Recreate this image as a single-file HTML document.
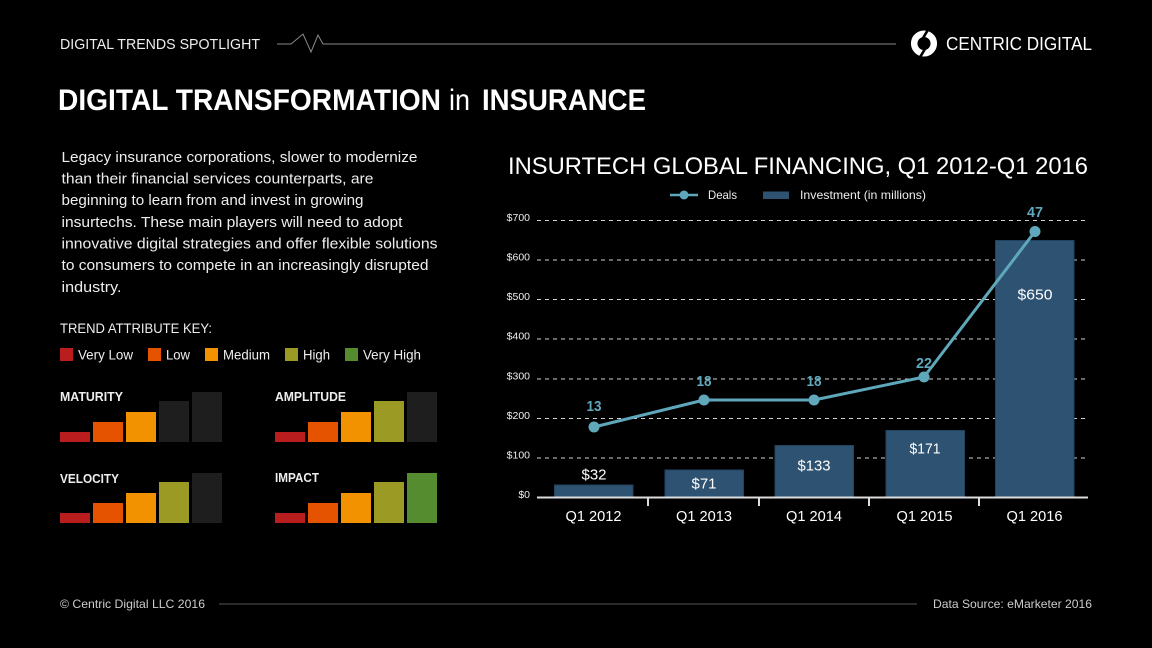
<!DOCTYPE html>
<html>
<head>
<meta charset="utf-8">
<style>
html,body{margin:0;padding:0;background:#000;}
svg{display:block;}
text{font-family:"Liberation Sans",sans-serif;}
</style>
</head>
<body>
<svg width="1152" height="648" viewBox="0 0 1152 648" xmlns="http://www.w3.org/2000/svg">
<rect width="1152" height="648" fill="#000"/>

<!-- Header -->
<text x="60" y="49" font-size="15" fill="#eee" textLength="200" lengthAdjust="spacingAndGlyphs">DIGITAL TRENDS SPOTLIGHT</text>
<polyline points="277,44 291,44 303,34 311,52 318,35 323,44 896,44" fill="none" stroke="#8a8a8a" stroke-width="1"/>
<!-- logo -->
<circle cx="924" cy="43.5" r="9.8" fill="none" stroke="#fff" stroke-width="6.5"/>
<line x1="929" y1="28" x2="922.5" y2="39" stroke="#000" stroke-width="2.6"/>
<line x1="919" y1="59" x2="925.5" y2="48" stroke="#000" stroke-width="2.6"/>
<text x="946" y="50" font-size="18" fill="#fff" textLength="146" lengthAdjust="spacingAndGlyphs">CENTRIC DIGITAL</text>

<!-- Main title -->
<text x="58" y="110" font-size="30" font-weight="bold" fill="#fff" textLength="383" lengthAdjust="spacingAndGlyphs">DIGITAL TRANSFORMATION</text>
<text x="449" y="110" font-size="30" fill="#fff" textLength="21" lengthAdjust="spacingAndGlyphs">in</text>
<text x="482" y="110" font-size="30" font-weight="bold" fill="#fff" textLength="164" lengthAdjust="spacingAndGlyphs">INSURANCE</text>

<!-- Paragraph -->
<g font-size="14.5" fill="#eee">
<text x="61.5" y="162" textLength="356" lengthAdjust="spacingAndGlyphs">Legacy insurance corporations, slower to modernize</text>
<text x="61.5" y="183.5" textLength="312" lengthAdjust="spacingAndGlyphs">than their financial services counterparts, are</text>
<text x="61.5" y="205" textLength="302" lengthAdjust="spacingAndGlyphs">beginning to learn from and invest in growing</text>
<text x="61.5" y="227" textLength="341" lengthAdjust="spacingAndGlyphs">insurtechs.  These main players will need to adopt</text>
<text x="61.5" y="248.5" textLength="376" lengthAdjust="spacingAndGlyphs">innovative digital strategies and offer flexible solutions</text>
<text x="61.5" y="270" textLength="367" lengthAdjust="spacingAndGlyphs">to consumers to compete in an increasingly disrupted</text>
<text x="61.5" y="292" textLength="60" lengthAdjust="spacingAndGlyphs">industry.</text>
</g>

<!-- Trend key -->
<text x="60" y="333" font-size="14" fill="#eee" textLength="152" lengthAdjust="spacingAndGlyphs">TREND ATTRIBUTE KEY:</text>
<rect x="60" y="348" width="13" height="13" fill="#b91d1e"/>
<text x="78" y="359.5" font-size="14" fill="#eee" textLength="55" lengthAdjust="spacingAndGlyphs">Very Low</text>
<rect x="148" y="348" width="13" height="13" fill="#e55300"/>
<text x="166" y="359.5" font-size="14" fill="#eee" textLength="24" lengthAdjust="spacingAndGlyphs">Low</text>
<rect x="205" y="348" width="13" height="13" fill="#f39200"/>
<text x="223" y="359.5" font-size="14" fill="#eee" textLength="47" lengthAdjust="spacingAndGlyphs">Medium</text>
<rect x="285" y="348" width="13" height="13" fill="#9b9a25"/>
<text x="303" y="359.5" font-size="14" fill="#eee" textLength="27" lengthAdjust="spacingAndGlyphs">High</text>
<rect x="345" y="348" width="13" height="13" fill="#548c2f"/>
<text x="363" y="359.5" font-size="14" fill="#eee" textLength="58" lengthAdjust="spacingAndGlyphs">Very High</text>

<!-- MATURITY -->
<text x="60" y="401" font-size="12.5" font-weight="bold" fill="#eee" textLength="63" lengthAdjust="spacingAndGlyphs">MATURITY</text>
<rect x="60" y="432" width="30" height="10" fill="#b91d1e"/>
<rect x="93" y="422" width="30" height="20" fill="#e55300"/>
<rect x="126" y="412" width="30" height="30" fill="#f39200"/>
<rect x="159" y="401" width="30" height="41" fill="#1e1e1e"/>
<rect x="192" y="392" width="30" height="50" fill="#1e1e1e"/>

<!-- AMPLITUDE -->
<text x="275" y="401" font-size="12.5" font-weight="bold" fill="#eee" textLength="71" lengthAdjust="spacingAndGlyphs">AMPLITUDE</text>
<rect x="275" y="432" width="30" height="10" fill="#b91d1e"/>
<rect x="308" y="422" width="30" height="20" fill="#e55300"/>
<rect x="341" y="412" width="30" height="30" fill="#f39200"/>
<rect x="374" y="401" width="30" height="41" fill="#9b9a25"/>
<rect x="407" y="392" width="30" height="50" fill="#1e1e1e"/>

<!-- VELOCITY -->
<text x="60" y="483" font-size="12.5" font-weight="bold" fill="#eee" textLength="59" lengthAdjust="spacingAndGlyphs">VELOCITY</text>
<rect x="60" y="513" width="30" height="10" fill="#b91d1e"/>
<rect x="93" y="503" width="30" height="20" fill="#e55300"/>
<rect x="126" y="493" width="30" height="30" fill="#f39200"/>
<rect x="159" y="482" width="30" height="41" fill="#9b9a25"/>
<rect x="192" y="473" width="30" height="50" fill="#1e1e1e"/>

<!-- IMPACT -->
<text x="275" y="482" font-size="12.5" font-weight="bold" fill="#eee" textLength="44" lengthAdjust="spacingAndGlyphs">IMPACT</text>
<rect x="275" y="513" width="30" height="10" fill="#b91d1e"/>
<rect x="308" y="503" width="30" height="20" fill="#e55300"/>
<rect x="341" y="493" width="30" height="30" fill="#f39200"/>
<rect x="374" y="482" width="30" height="41" fill="#9b9a25"/>
<rect x="407" y="473" width="30" height="50" fill="#548c2f"/>

<!-- Chart title -->
<text x="508" y="174" font-size="24.5" fill="#fff" textLength="580" lengthAdjust="spacingAndGlyphs">INSURTECH GLOBAL FINANCING, Q1 2012-Q1 2016</text>

<!-- Chart legend -->
<line x1="670" y1="195" x2="698" y2="195" stroke="#5fa8bb" stroke-width="2.5"/>
<circle cx="684" cy="195" r="4.5" fill="#5fa8bb"/>
<text x="708" y="199" font-size="12" fill="#eee" textLength="29" lengthAdjust="spacingAndGlyphs">Deals</text>
<rect x="763" y="191.5" width="26" height="7.5" fill="#2d5272"/>
<text x="800" y="199" font-size="12" fill="#eee" textLength="126" lengthAdjust="spacingAndGlyphs">Investment (in millions)</text>

<!-- Gridlines -->
<g stroke="#cfcfcf" stroke-width="1" stroke-dasharray="4,4">
<line x1="537" y1="220.5" x2="1088" y2="220.5"/>
<line x1="537" y1="260" x2="1088" y2="260"/>
<line x1="537" y1="299.5" x2="1088" y2="299.5"/>
<line x1="537" y1="339" x2="1088" y2="339"/>
<line x1="537" y1="379" x2="1088" y2="379"/>
<line x1="537" y1="418.5" x2="1088" y2="418.5"/>
<line x1="537" y1="458" x2="1088" y2="458"/>
</g>

<!-- Y labels -->
<g font-size="10.5" fill="#eee" text-anchor="end">
<text x="530" y="221">$700</text>
<text x="530" y="260.5">$600</text>
<text x="530" y="300">$500</text>
<text x="530" y="339.5">$400</text>
<text x="530" y="379.5">$300</text>
<text x="530" y="419">$200</text>
<text x="530" y="458.5">$100</text>
<text x="530" y="498">$0</text>
</g>

<!-- Bars -->
<g fill="#2d5272" stroke="#22435f" stroke-width="1">
<rect x="554.5" y="485" width="78.5" height="12"/>
<rect x="665" y="470" width="78.5" height="27"/>
<rect x="775" y="445.5" width="78.5" height="51.5"/>
<rect x="886" y="430.5" width="78.5" height="66.5"/>
<rect x="995.5" y="240.5" width="78.5" height="256.5"/>
</g>

<!-- Axis -->
<line x1="537" y1="497.5" x2="1088" y2="497.5" stroke="#ddd" stroke-width="2"/>
<g stroke="#ddd" stroke-width="2">
<line x1="648" y1="497" x2="648" y2="506"/>
<line x1="759" y1="497" x2="759" y2="506"/>
<line x1="869" y1="497" x2="869" y2="506"/>
<line x1="979" y1="497" x2="979" y2="506"/>
</g>

<!-- Bar labels -->
<g font-size="15" fill="#fff" text-anchor="middle">
<text x="594" y="479.5" textLength="25" lengthAdjust="spacingAndGlyphs">$32</text>
<text x="704" y="488.5" textLength="25" lengthAdjust="spacingAndGlyphs">$71</text>
<text x="814" y="470.5" textLength="33" lengthAdjust="spacingAndGlyphs">$133</text>
<text x="925" y="453.5" textLength="31" lengthAdjust="spacingAndGlyphs">$171</text>
<text x="1035" y="299.5" textLength="35" lengthAdjust="spacingAndGlyphs">$650</text>
</g>

<!-- X labels -->
<g font-size="15" fill="#fff" text-anchor="middle">
<text x="593.5" y="521" textLength="56" lengthAdjust="spacingAndGlyphs">Q1 2012</text>
<text x="704" y="521" textLength="56" lengthAdjust="spacingAndGlyphs">Q1 2013</text>
<text x="814" y="521" textLength="56" lengthAdjust="spacingAndGlyphs">Q1 2014</text>
<text x="924.5" y="521" textLength="56" lengthAdjust="spacingAndGlyphs">Q1 2015</text>
<text x="1034.5" y="521" textLength="56" lengthAdjust="spacingAndGlyphs">Q1 2016</text>
</g>

<!-- Deals line -->
<polyline points="594,427 704,400 814,400 924,377 1035,231.5" fill="none" stroke="#5fa8bb" stroke-width="3" stroke-linejoin="round"/>
<g fill="#5fa8bb">
<circle cx="594" cy="427" r="5.5"/>
<circle cx="704" cy="400" r="5.5"/>
<circle cx="814" cy="400" r="5.5"/>
<circle cx="924" cy="377" r="5.5"/>
<circle cx="1035" cy="231.5" r="5.5"/>
</g>
<g font-size="15" font-weight="bold" fill="#5fa8bb" text-anchor="middle">
<text x="594" y="411" textLength="15" lengthAdjust="spacingAndGlyphs">13</text>
<text x="704" y="386" textLength="15" lengthAdjust="spacingAndGlyphs">18</text>
<text x="814" y="386" textLength="15" lengthAdjust="spacingAndGlyphs">18</text>
<text x="924" y="368" textLength="16" lengthAdjust="spacingAndGlyphs">22</text>
<text x="1035" y="217" textLength="16" lengthAdjust="spacingAndGlyphs">47</text>
</g>

<!-- Footer -->
<text x="60" y="608" font-size="12" fill="#ccc" textLength="145" lengthAdjust="spacingAndGlyphs">© Centric Digital LLC 2016</text>
<line x1="219" y1="604" x2="917" y2="604" stroke="#555" stroke-width="1"/>
<text x="933" y="608" font-size="12" fill="#ccc" textLength="159" lengthAdjust="spacingAndGlyphs">Data Source: eMarketer 2016</text>
</svg>
</body>
</html>
